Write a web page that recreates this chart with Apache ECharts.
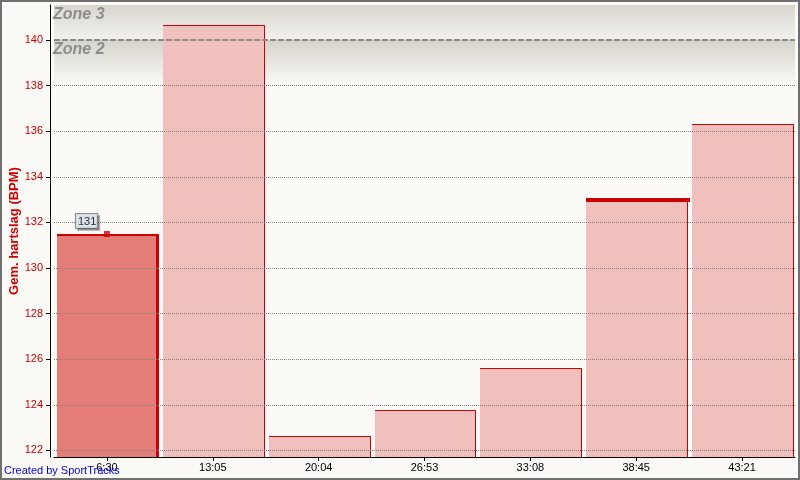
<!DOCTYPE html>
<html>
<head>
<meta charset="utf-8">
<script src="https://cdn.jsdelivr.net/npm/echarts@6/dist/echarts.min.js"></script>
<style>
html,body{margin:0;padding:0;background:#fbfaf6;}
#chart{width:800px;height:480px;}
</style>
</head>
<body>
<div id="chart"></div>
<script>
// ---- data ----
var categories = ['6:30', '13:05', '20:04', '26:53', '33:08', '38:45', '43:21'];
var heartRate = [131.49, 140.66, 122.63, 123.76, 125.61, 133.09, 136.30];
var yTicks = [122, 124, 126, 128, 130, 132, 134, 136, 138, 140];
var zoneNames = ['Zone 3', 'Zone 2'];
var zoneBoundary = 140;
var zone2Fade = 138;
var yMin = 121.71, yMax = 141.535;
var activeIndex = 0;   // highlighted bar with value flag
var markedIndex = 5;   // bar with thick top marker
var yAxisTitle = 'Gem. hartslag (BPM)';
var credit = 'Created by SportTracks';

var FONT = '"Liberation Sans", Arial, sans-serif';
var RED = '#cc0000';

var chart = echarts.init(document.getElementById('chart'), null, {renderer: 'canvas'});

function zoneGrad(a0, a1) {
  return new echarts.graphic.LinearGradient(0, 0, 0, 1, [
    {offset: 0, color: 'rgba(95,85,65,' + a0 + ')'},
    {offset: 1, color: 'rgba(95,85,65,' + a1 + ')'}
  ]);
}

var option = {
  animation: false,
  backgroundColor: '#fbfaf6',
  textStyle: {fontFamily: FONT},
  grid: {left: 54, right: 5, top: 5, bottom: 23, containLabel: false, outerBoundsMode: 'none'},
  xAxis: {
    type: 'category',
    data: categories,
    boundaryGap: true,
    axisLine: {lineStyle: {color: '#000', width: 1}},
    axisTick: {show: true, alignWithLabel: true, length: 4, lineStyle: {color: '#000'}},
    axisLabel: {color: '#000', fontSize: 11, margin: 5, fontFamily: FONT},
    splitLine: {show: false}
  },
  yAxis: {
    type: 'value',
    min: yMin,
    max: yMax,
    offset: 4,
    name: yAxisTitle,
    nameLocation: 'middle',
    nameGap: 29,
    nameMoveOverlap: false,
    nameTextStyle: {color: RED, fontSize: 13, fontWeight: 'bold', fontFamily: FONT},
    axisLine: {show: true, lineStyle: {color: '#000', width: 1}},
    axisTick: {show: true, length: 4, lineStyle: {color: '#000'}, customValues: yTicks},
    axisLabel: {color: RED, fontSize: 11, margin: 7, fontFamily: FONT, customValues: yTicks},
    splitLine: {show: false}
  },
  graphic: [
    {type: 'rect', silent: true, z: 100, shape: {x: 1, y: 1, width: 798, height: 478},
     style: {fill: null, stroke: '#707070', lineWidth: 2}},
    {type: 'text', left: 4, top: 465, z: 100,
     style: {text: credit, fill: '#0000ee', font: '11px ' + FONT}}
  ],
  series: [
    {
      type: 'custom',
      z: 2,
      clip: true,
      data: heartRate.map(function (v, i) { return [i, v]; }),
      encode: {x: 0, y: 1},
      renderItem: function (params, api) {
        var i = api.value(0), v = api.value(1);
        var top = api.coord([i, v]);
        var bot = api.coord([i, yMin]);
        var w = api.size([1, 0])[0];
        var l = Math.round(top[0] - w / 2 + 3);
        var r = Math.round(top[0] + w / 2 - 1);
        var t = Math.round(top[1]);
        var b = bot[1];
        var sel = params.dataIndex === activeIndex;
        var children = [
          {type: 'rect', shape: {x: l, y: t, width: r - l, height: b - t},
           style: {fill: sel ? '#e47c78' : '#f0c0bc'}}
        ];
        if (sel) {
          children.push({type: 'rect', shape: {x: l, y: t, width: r - l, height: 2}, style: {fill: RED}});
          children.push({type: 'rect', shape: {x: r - 3, y: t, width: 3, height: b - t}, style: {fill: RED}});
        } else {
          children.push({type: 'polyline',
            shape: {points: [[l, t + 0.5], [r - 0.5, t + 0.5], [r - 0.5, b]]},
            style: {stroke: RED, lineWidth: 1, fill: null}});
        }
        if (params.dataIndex === markedIndex) {
          children.push({type: 'rect', shape: {x: l, y: t, width: r - l + 2, height: 4}, style: {fill: RED}});
        }
        return {type: 'group', children: children};
      }
    },
    {
      type: 'scatter',
      z: 3,
      silent: true,
      data: [],
      markArea: {
        silent: true,
        data: [
          [{yAxis: zoneBoundary, name: zoneNames[0],
            itemStyle: {color: zoneGrad(0.22, 0.05)}},
           {yAxis: yMax}],
          [{yAxis: zone2Fade, name: zoneNames[1],
            itemStyle: {color: zoneGrad(0.24, 0.0)}},
           {yAxis: zoneBoundary}]
        ],
        label: {
          show: true,
          position: 'insideTopLeft',
          distance: 0,
          offset: [-1, 2],
          color: '#8c8c8c',
          fontSize: 16,
          fontStyle: 'italic',
          fontWeight: 'bold',
          fontFamily: FONT
        }
      }
    },
    {
      type: 'scatter',
      z: 4,
      silent: true,
      data: [],
      markLine: {
        silent: true,
        symbol: ['none', 'none'],
        label: {show: false},
        data: yTicks.filter(function (v) { return v !== zoneBoundary; }).map(function (v) {
          return {yAxis: v, lineStyle: {type: [1, 1], color: '#808080', width: 1}};
        }).concat([{yAxis: zoneBoundary, lineStyle: {type: [6, 2], color: '#8e8a86', width: 2}}])
      }
    },
    {
      type: 'scatter',
      z: 5,
      silent: true,
      symbol: 'rect',
      symbolSize: 6,
      itemStyle: {color: RED},
      data: [[activeIndex, heartRate[activeIndex]]],
      label: {
        show: true,
        position: [-28, -17],
        formatter: function (p) { return String(Math.round(p.value[1])); },
        color: '#000',
        fontSize: 11,
        fontFamily: FONT,
        backgroundColor: '#e6eef7',
        borderColor: '#6e6e6e',
        borderWidth: 1,
        padding: [2, 1, 1, 2],
        shadowColor: 'rgba(0,0,0,0.3)',
        shadowOffsetX: 2,
        shadowOffsetY: 2,
        shadowBlur: 0
      }
    }
  ]
};

chart.setOption(option);
</script>
</body>
</html>
